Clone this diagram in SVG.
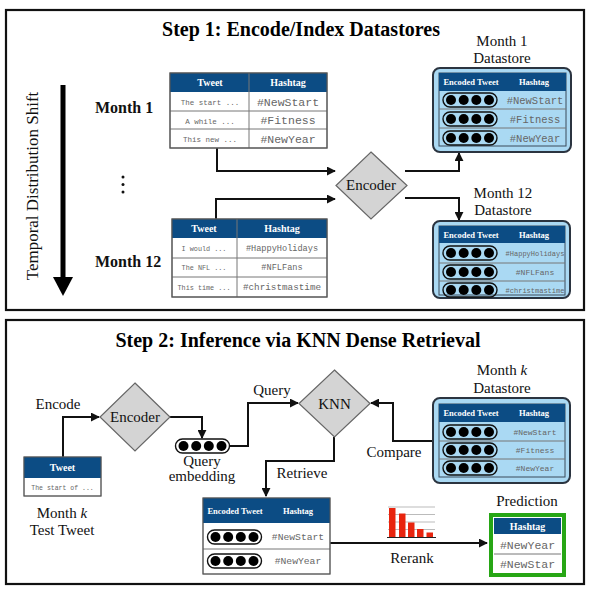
<svg xmlns="http://www.w3.org/2000/svg" xmlns:xlink="http://www.w3.org/1999/xlink" width="598" height="593" viewBox="0 0 598 593">
<style>
.panel{fill:#fff;stroke:#111;stroke-width:2.2}
.title{font-family:"Liberation Serif",serif;font-weight:bold;font-size:20px;fill:#000;text-anchor:middle}
.lbl{font-family:"Liberation Serif",serif;font-size:15px;fill:#111;text-anchor:middle}
.blbl{font-family:"Liberation Serif",serif;font-weight:bold;font-size:16px;fill:#111}
.hdr{fill:#0c4c84}
.htxt{font-family:"Liberation Serif",serif;font-weight:bold;font-size:10px;fill:#fff;text-anchor:middle}
.htxs{font-family:"Liberation Serif",serif;font-weight:bold;font-size:8.5px;fill:#fff;text-anchor:middle}
.cell{fill:#fff;stroke:#777;stroke-width:1}
.grid{stroke:#777;stroke-width:1}
.mono{font-family:"Liberation Mono",monospace;fill:#666;text-anchor:middle}
.ds{fill:#aad9f3;stroke:#2b3440;stroke-width:2}
.dsin{fill:#aad9f3;stroke:#3a4a5a;stroke-width:1}
.dia{fill:#d4d4d4;stroke:#666;stroke-width:1.2}
.conn{fill:none;stroke:#111;stroke-width:2}
.bar{fill:#e8240e}
.gl{stroke:#bbb;stroke-width:1}
</style>
<defs>
<marker id="ah" viewBox="0 0 10 10" refX="9" refY="5" markerUnits="userSpaceOnUse" markerWidth="9" markerHeight="9" orient="auto">
<path d="M0,0 L10,5 L0,10 z" fill="#111"/>
</marker>
<g id="pill">
<rect x="0" y="-7" width="54" height="14" rx="7" fill="none" stroke="#111" stroke-width="1.4"/>
<circle cx="8" cy="0" r="5" fill="#000"/>
<circle cx="20.7" cy="0" r="5" fill="#000"/>
<circle cx="33.3" cy="0" r="5" fill="#000"/>
<circle cx="46" cy="0" r="5" fill="#000"/>
</g>
</defs>

<rect class="panel" x="6" y="10" width="578" height="300"/>
<rect class="panel" x="6" y="320" width="578" height="264"/>
<text class="title" x="301" y="36">Step 1: Encode/Index Datastores</text>
<text class="title" x="298" y="347">Step 2: Inference via KNN Dense Retrieval</text>

<g id="temporal-shift">
<line x1="63" y1="85" x2="63" y2="279" stroke="#000" stroke-width="5"/>
<polygon points="53,277 73,277 63,296" fill="#000"/>
<text x="0" y="0" transform="translate(38,186) rotate(-90)" font-family="Liberation Serif,serif" font-size="17" fill="#111" text-anchor="middle">Temporal Distribution Shift</text>
</g>

<g id="month-labels">
<text class="blbl" x="95" y="113">Month 1</text>
<circle cx="123" cy="177" r="1.5" fill="#111"/>
<circle cx="123" cy="184.5" r="1.5" fill="#111"/>
<circle cx="123" cy="192" r="1.5" fill="#111"/>
<text class="blbl" x="95" y="267">Month 12</text>
</g>

<g id="connectors">
<path class="conn" d="M217,148 V171 H335" marker-end="url(#ah)"/>
<path class="conn" d="M216,219 V199 H335" marker-end="url(#ah)"/>
<path class="conn" d="M405,171 H459 V153" marker-end="url(#ah)"/>
<path class="conn" d="M405,198 H459 V220" marker-end="url(#ah)"/>
<path class="conn" d="M63,457 V417 H99" marker-end="url(#ah)"/>
<path class="conn" d="M170,417 H202 V438" marker-end="url(#ah)"/>
<path class="conn" d="M230,446 H248 V403 H298" marker-end="url(#ah)"/>
<path class="conn" d="M433,441 H393 V403 H371" marker-end="url(#ah)"/>
<path class="conn" d="M334,437 V461 H266 V496" marker-end="url(#ah)"/>
<path class="conn" d="M330,543 H487" marker-end="url(#ah)"/>
</g>

<g id="month1-table">
<rect class="cell" x="170" y="73" width="157" height="75"/>
<rect class="hdr" x="170" y="73" width="157" height="19"/>
<line class="grid" x1="249" y1="73" x2="249" y2="148"/>
<line class="grid" x1="170" y1="111" x2="327" y2="111"/>
<line class="grid" x1="170" y1="129" x2="327" y2="129"/>
<rect x="170" y="73" width="157" height="75" fill="none" stroke="#555" stroke-width="1.2"/>
<text class="htxt" x="210" y="86">Tweet</text>
<text class="htxt" x="288" y="86">Hashtag</text>
<text class="mono" x="210" y="105" font-size="7.5">The start ...</text>
<text class="mono" x="210" y="124" font-size="7.5">A while ...</text>
<text class="mono" x="210" y="142" font-size="7.5">This new ...</text>
<text class="mono" x="288" y="106" font-size="11.5">#NewStart</text>
<text class="mono" x="288" y="124" font-size="11.5">#Fitness</text>
<text class="mono" x="288" y="143" font-size="11.5">#NewYear</text>
</g>

<g id="month12-table">
<rect class="cell" x="172" y="219" width="155" height="78"/>
<rect class="hdr" x="172" y="219" width="155" height="19"/>
<line class="grid" x1="237" y1="219" x2="237" y2="297"/>
<line class="grid" x1="172" y1="258" x2="327" y2="258"/>
<line class="grid" x1="172" y1="277" x2="327" y2="277"/>
<rect x="172" y="219" width="155" height="78" fill="none" stroke="#555" stroke-width="1.2"/>
<text class="htxt" x="204" y="232">Tweet</text>
<text class="htxt" x="282" y="232">Hashtag</text>
<text class="mono" x="204" y="251" font-size="6.8">I would ...</text>
<text class="mono" x="204" y="270" font-size="6.8">The NFL ...</text>
<text class="mono" x="204" y="290" font-size="6.8">This time ...</text>
<text class="mono" x="282" y="251" font-size="8.6">#HappyHolidays</text>
<text class="mono" x="282" y="270" font-size="8.6">#NFLFans</text>
<text class="mono" x="282" y="290" font-size="9.3">#christmastime</text>
</g>

<g id="encoder1">
<polygon class="dia" points="371,152 407,185.5 371,219 336,185.5"/>
<text class="lbl" x="371" y="190" font-size="13">Encoder</text>
</g>

<g id="month1-datastore">
<text class="lbl" x="502" y="46">Month 1</text>
<text class="lbl" x="502" y="63">Datastore</text>
<rect class="ds" x="433" y="68" width="138" height="84" rx="7"/>
<rect class="dsin" x="439" y="73" width="127" height="73"/>
<rect class="hdr" x="439" y="73" width="127" height="18"/>
<line class="grid" x1="439" y1="109" x2="566" y2="109"/>
<line class="grid" x1="439" y1="128" x2="566" y2="128"/>
<text class="htxs" x="471" y="85">Encoded Tweet</text>
<text class="htxs" x="534" y="85">Hashtag</text>
<use xlink:href="#pill" x="443" y="100"/>
<use xlink:href="#pill" x="443" y="119"/>
<use xlink:href="#pill" x="443" y="138"/>
<text class="mono" x="535" y="104" font-size="10.5">#NewStart</text>
<text class="mono" x="535" y="123" font-size="10.5">#Fitness</text>
<text class="mono" x="535" y="142" font-size="10.5">#NewYear</text>
</g>

<g id="month12-datastore">
<text class="lbl" x="503" y="198">Month 12</text>
<text class="lbl" x="503" y="215">Datastore</text>
<rect class="ds" x="433" y="221" width="137" height="77" rx="7"/>
<rect class="dsin" x="439" y="226" width="126" height="69"/>
<rect class="hdr" x="439" y="226" width="126" height="17"/>
<line class="grid" x1="439" y1="263" x2="565" y2="263"/>
<line class="grid" x1="439" y1="281" x2="565" y2="281"/>
<text class="htxs" x="471" y="237.5">Encoded Tweet</text>
<text class="htxs" x="534" y="237.5">Hashtag</text>
<use xlink:href="#pill" x="443" y="253"/>
<use xlink:href="#pill" x="443" y="272"/>
<use xlink:href="#pill" x="443" y="290"/>
<text class="mono" x="535" y="256" font-size="7">#HappyHolidays</text>
<text class="mono" x="535" y="275" font-size="8">#NFLFans</text>
<text class="mono" x="535" y="293" font-size="7">#christmastime</text>
</g>

<g id="test-tweet">
<text class="lbl" x="58" y="409" font-size="16">Encode</text>
<rect class="cell" x="24" y="457" width="77" height="39"/>
<rect class="hdr" x="24" y="457" width="77" height="21"/>
<rect x="24" y="457" width="77" height="39" fill="none" stroke="#555" stroke-width="1"/>
<text class="htxt" x="62.5" y="471">Tweet</text>
<text class="mono" x="62.5" y="490" font-size="6.5">The start of ...</text>
<text class="lbl" x="62" y="518">Month <tspan font-style="italic">k</tspan></text>
<text class="lbl" x="62" y="535">Test Tweet</text>
</g>

<g id="encoder2">
<polygon class="dia" points="135,383 170,417 135,451 100,417"/>
<text class="lbl" x="135" y="422" font-size="14">Encoder</text>
</g>

<g id="query-embedding">
<use xlink:href="#pill" x="175.5" y="446"/>
<text class="lbl" x="202" y="466" font-size="12.5">Query</text>
<text class="lbl" x="202" y="481" font-size="12.5">embedding</text>
</g>

<g id="knn">
<text class="lbl" x="272" y="395" font-size="16">Query</text>
<polygon class="dia" points="334.5,370 370,403.5 334.5,437 299,403.5"/>
<text class="lbl" x="334.5" y="409" font-size="15">KNN</text>
<text class="lbl" x="394" y="457" font-size="16">Compare</text>
<text class="lbl" x="302" y="478" font-size="16">Retrieve</text>
</g>

<g id="monthk-datastore">
<text class="lbl" x="502" y="375">Month <tspan font-style="italic">k</tspan></text>
<text class="lbl" x="502" y="393">Datastore</text>
<rect class="ds" x="433" y="398" width="137" height="85" rx="7"/>
<rect class="dsin" x="439" y="404" width="126" height="73"/>
<rect class="hdr" x="439" y="404" width="126" height="18"/>
<line class="grid" x1="439" y1="441" x2="565" y2="441"/>
<line class="grid" x1="439" y1="459" x2="565" y2="459"/>
<text class="htxs" x="471" y="416">Encoded Tweet</text>
<text class="htxs" x="534" y="416">Hashtag</text>
<use xlink:href="#pill" x="443" y="432"/>
<use xlink:href="#pill" x="443" y="450"/>
<use xlink:href="#pill" x="443" y="468"/>
<text class="mono" x="535" y="435" font-size="8">#NewStart</text>
<text class="mono" x="535" y="453" font-size="8">#Fitness</text>
<text class="mono" x="535" y="471" font-size="8">#NewYear</text>
</g>

<g id="retrieved-table">
<rect class="cell" x="203" y="498" width="127" height="76"/>
<rect class="hdr" x="203" y="498" width="127" height="25"/>
<line class="grid" x1="203" y1="549" x2="330" y2="549"/>
<rect x="203" y="498" width="127" height="76" fill="none" stroke="#555" stroke-width="1"/>
<text class="htxs" x="235" y="514">Encoded Tweet</text>
<text class="htxs" x="298" y="514">Hashtag</text>
<use xlink:href="#pill" x="207.5" y="537"/>
<use xlink:href="#pill" x="207.5" y="561"/>
<text class="mono" x="298" y="540" font-size="9.7">#NewStart</text>
<text class="mono" x="298" y="564" font-size="9.7">#NewYear</text>
</g>

<g id="rerank">
<line class="gl" x1="388" y1="507" x2="435" y2="507"/>
<line class="gl" x1="388" y1="514.5" x2="435" y2="514.5"/>
<line class="gl" x1="388" y1="522" x2="435" y2="522"/>
<line class="gl" x1="388" y1="529.5" x2="435" y2="529.5"/>
<rect class="bar" x="389" y="508" width="6.5" height="29"/>
<rect class="bar" x="399" y="513.5" width="6.5" height="23.5"/>
<rect class="bar" x="408" y="522.5" width="6.5" height="14.5"/>
<rect class="bar" x="417" y="529" width="6.5" height="8"/>
<rect class="bar" x="426.5" y="532.5" width="6.5" height="4.5"/>
<line x1="387" y1="537.5" x2="436" y2="537.5" stroke="#222" stroke-width="1"/>
<text class="lbl" x="412" y="563" font-size="16">Rerank</text>
</g>

<g id="prediction">
<text class="lbl" x="527" y="506">Prediction</text>
<rect x="491" y="515" width="73" height="60" fill="#fff" stroke="#27a615" stroke-width="4"/>
<rect class="hdr" x="494" y="518" width="67" height="16"/>
<line class="grid" x1="494" y1="554" x2="561" y2="554"/>
<text class="htxt" x="527.5" y="530">Hashtag</text>
<text class="mono" x="527.5" y="549" font-size="11.5">#NewYear</text>
<text class="mono" x="527.5" y="568" font-size="11.5">#NewStar</text>
</g>
</svg>
